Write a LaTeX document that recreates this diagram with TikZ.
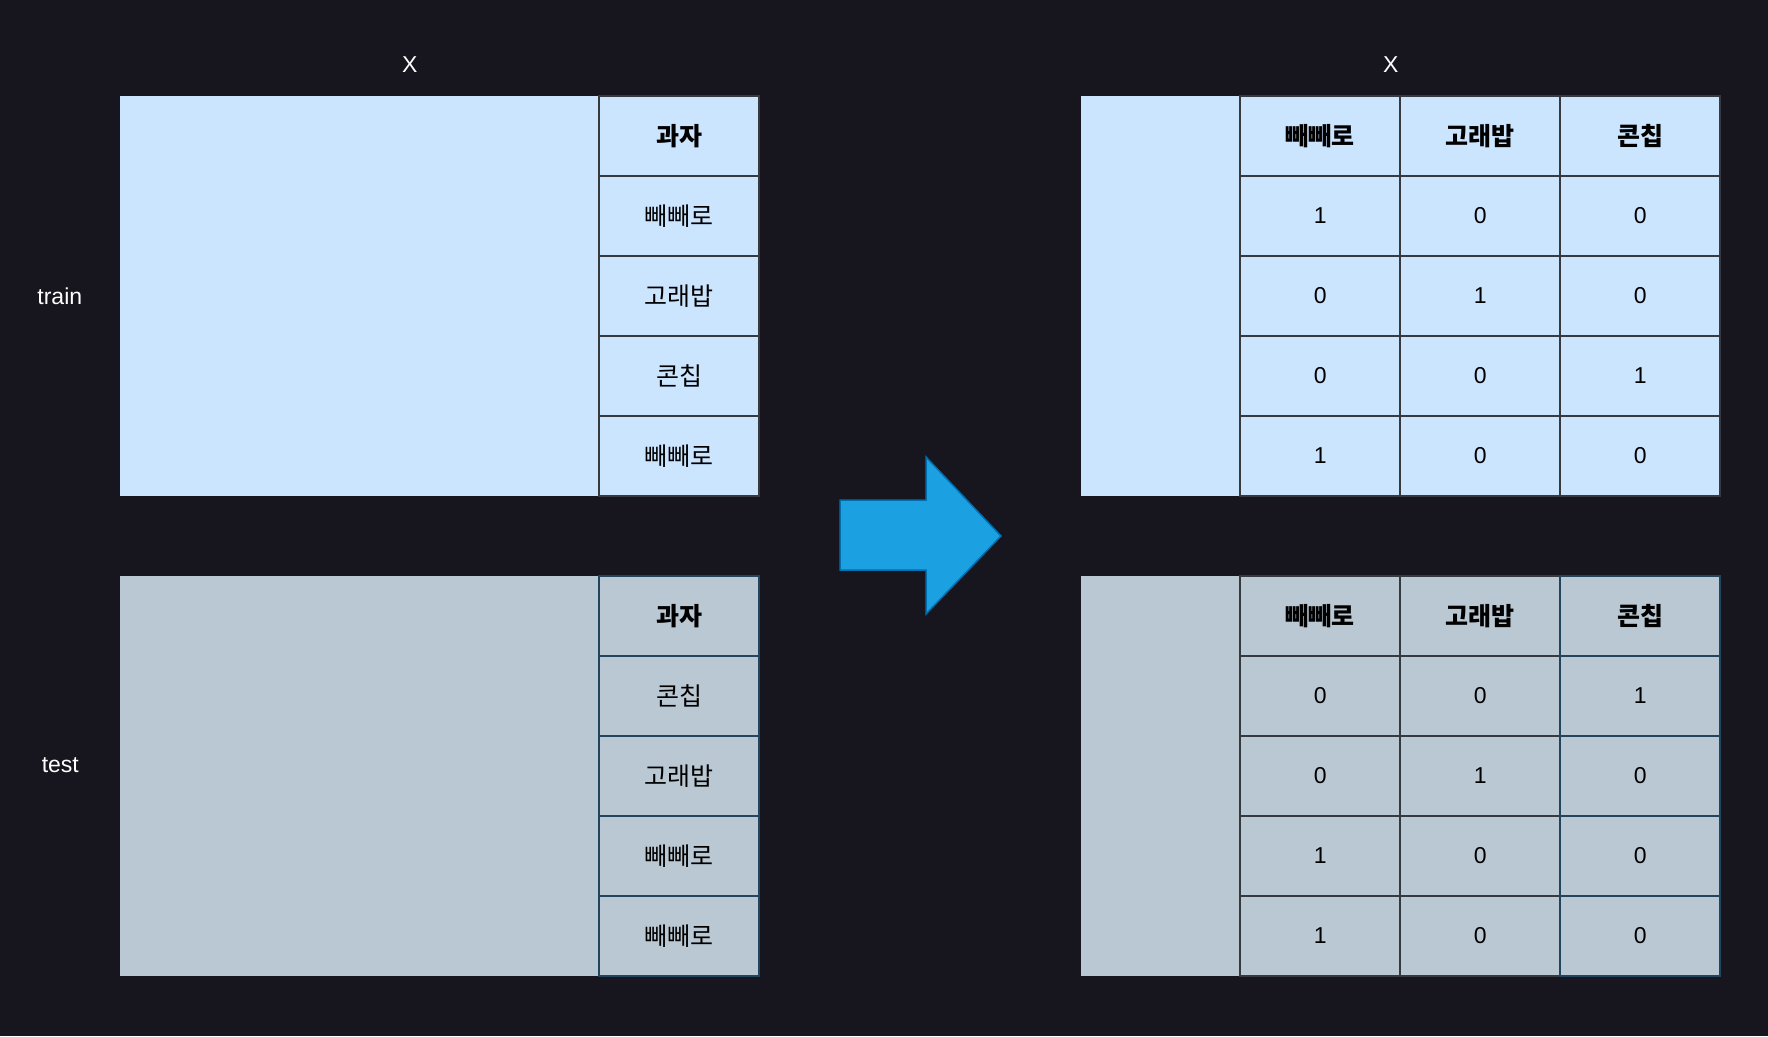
\documentclass[tikz,border=0pt]{standalone}
\usepackage{fontspec}
\setmainfont{Liberation Sans}
\newfontfamily\krfont{Noto Sans CJK KR}
\usetikzlibrary{positioning}
\definecolor{bgdark}{HTML}{17151E}
\definecolor{trainfill}{HTML}{CCE5FF}
\definecolor{testfill}{HTML}{BAC8D3}
\definecolor{grayline}{HTML}{36393D}
\definecolor{blueline}{HTML}{23445D}
\definecolor{arrowfill}{HTML}{1BA1E2}
\definecolor{arrowline}{HTML}{006EAF}

\begin{document}
\begin{tikzpicture}[
    x=1pt, y=-1pt,
    node distance=0pt and 0pt,
    every node/.style={inner sep=0pt, outer sep=0pt},
    label/.style={text=white, font=\fontsize{23}{28}\selectfont},
    block/.style={anchor=north west, minimum height=400pt},
    cell/.style={draw=grayline, line width=2pt, minimum width=160pt, minimum height=80pt, align=center},
    head/.style={font=\krfont\bfseries\fontsize{25}{30}\selectfont},
    word/.style={font=\krfont\fontsize{25}{30}\selectfont},
    num/.style={font=\fontsize{23}{28}\selectfont},
    bigarrow/.style={fill=arrowfill, draw=arrowline, line width=1.5pt}
]

    % Background and margins
    \useasboundingbox[fill=bgdark] (0,0) rectangle (1768,1036);

    % Labels
    \node[label] (xleft) at (409.8,65) {X};
    \node[label] (xright) at (1390.8,65) {X};
    \node[label] (trainlbl) at (59.8,296) {train};
    \node[label] (testlbl) at (60.3,765) {test};

    % Train, categories
    \node[block, fill=trainfill, minimum width=479.3pt] (trx) at (120,96) {};
    \node[cell, fill=trainfill, head, below right=of trx.north east] (trk0) {과자};
    \node[cell, fill=trainfill, word, below=of trk0] (trk1) {빼빼로};
    \node[cell, fill=trainfill, word, below=of trk1] (trk2) {고래밥};
    \node[cell, fill=trainfill, word, below=of trk2] (trk3) {콘칩};
    \node[cell, fill=trainfill, word, below=of trk3] (trk4) {빼빼로};

    % Test, categories
    \node[block, fill=testfill, minimum width=479.3pt] (tex) at (120,576) {};
    \node[cell, fill=testfill, draw=blueline, head, below right=of tex.north east] (tek0) {과자};
    \node[cell, fill=testfill, draw=blueline, word, below=of tek0] (tek1) {콘칩};
    \node[cell, fill=testfill, draw=blueline, word, below=of tek1] (tek2) {고래밥};
    \node[cell, fill=testfill, draw=blueline, word, below=of tek2] (tek3) {빼빼로};
    \node[cell, fill=testfill, draw=blueline, word, below=of tek3] (tek4) {빼빼로};

    % Arrow
    \draw[bigarrow] (840,500) -- (926,500) -- (926,457) -- (1001,536)
        -- (926,614) -- (926,570) -- (840,570) -- cycle;

    % Train, one-hot
    \node[block, fill=trainfill, minimum width=159.6pt] (ohtrx) at (1080.7,96) {};
    \node[cell, fill=trainfill, head, below right=of ohtrx.north east] (ohtr01) {빼빼로};
    \node[cell, fill=trainfill, head, right=of ohtr01] (ohtr02) {고래밥};
    \node[cell, fill=trainfill, head, right=of ohtr02] (ohtr03) {콘칩};
    \node[cell, fill=trainfill, num, below=of ohtr01] (ohtr11) {1};
    \node[cell, fill=trainfill, num, right=of ohtr11] (ohtr12) {0};
    \node[cell, fill=trainfill, num, right=of ohtr12] (ohtr13) {0};
    \node[cell, fill=trainfill, num, below=of ohtr11] (ohtr21) {0};
    \node[cell, fill=trainfill, num, right=of ohtr21] (ohtr22) {1};
    \node[cell, fill=trainfill, num, right=of ohtr22] (ohtr23) {0};
    \node[cell, fill=trainfill, num, below=of ohtr21] (ohtr31) {0};
    \node[cell, fill=trainfill, num, right=of ohtr31] (ohtr32) {0};
    \node[cell, fill=trainfill, num, right=of ohtr32] (ohtr33) {1};
    \node[cell, fill=trainfill, num, below=of ohtr31] (ohtr41) {1};
    \node[cell, fill=trainfill, num, right=of ohtr41] (ohtr42) {0};
    \node[cell, fill=trainfill, num, right=of ohtr42] (ohtr43) {0};

    % Test, one-hot
    \node[block, fill=testfill, minimum width=159.6pt] (ohtex) at (1080.7,576) {};
    \node[cell, fill=testfill, head, below right=of ohtex.north east] (ohte01) {빼빼로};
    \node[cell, fill=testfill, head, right=of ohte01] (ohte02) {고래밥};
    \node[cell, fill=testfill, draw=blueline, head, right=of ohte02] (ohte03) {콘칩};
    \node[cell, fill=testfill, num, below=of ohte01] (ohte11) {0};
    \node[cell, fill=testfill, num, right=of ohte11] (ohte12) {0};
    \node[cell, fill=testfill, draw=blueline, num, right=of ohte12] (ohte13) {1};
    \node[cell, fill=testfill, num, below=of ohte11] (ohte21) {0};
    \node[cell, fill=testfill, num, right=of ohte21] (ohte22) {1};
    \node[cell, fill=testfill, draw=blueline, num, right=of ohte22] (ohte23) {0};
    \node[cell, fill=testfill, num, below=of ohte21] (ohte31) {1};
    \node[cell, fill=testfill, num, right=of ohte31] (ohte32) {0};
    \node[cell, fill=testfill, draw=blueline, num, right=of ohte32] (ohte33) {0};
    \node[cell, fill=testfill, num, below=of ohte31] (ohte41) {1};
    \node[cell, fill=testfill, num, right=of ohte41] (ohte42) {0};
    \node[cell, fill=testfill, draw=blueline, num, right=of ohte42] (ohte43) {0};

\end{tikzpicture}
\end{document}
